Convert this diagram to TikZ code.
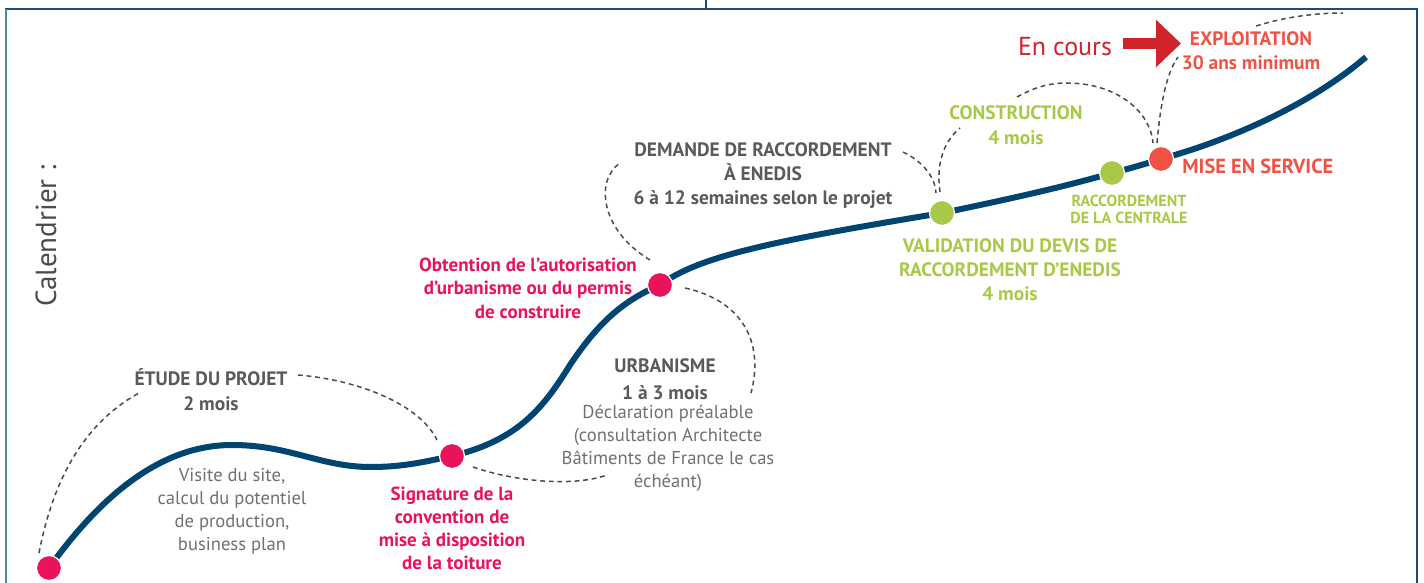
\documentclass[tikz,border=0pt]{standalone}
\usepackage{fontspec}
\setmainfont{PT Sans}
\usepackage{tikz}
\usetikzlibrary{arrows.meta}
\definecolor{navy}{RGB}{0,68,114}
\definecolor{framedark}{RGB}{30,75,115}
\definecolor{framelight}{RGB}{85,135,170}
\definecolor{pinkc}{RGB}{233,19,90}
\definecolor{greenc}{RGB}{168,201,72}
\definecolor{misec}{RGB}{240,82,68}
\definecolor{courc}{RGB}{209,36,42}
\definecolor{graytxt}{RGB}{90,90,90}
\definecolor{lighttxt}{RGB}{112,112,112}
\definecolor{dashgray}{RGB}{75,75,75}

\begin{document}
\begin{tikzpicture}[x=0.5pt,y=-0.5pt,
    dot/.style={circle,draw=white,line width=0.6pt,minimum size=12.5pt,inner sep=0pt},
    dashline/.style={dashgray,line width=0.75pt,dash pattern=on 2.4pt off 1.9pt},
    lblbold/.style={font=\bfseries\fontsize{9.7}{12}\selectfont,align=center,inner sep=0pt},
    lblreg/.style={font=\fontsize{9.3}{11.5}\selectfont,text=lighttxt,align=center,inner sep=0pt}]
\useasboundingbox (0,0) rectangle (1424,583);
% cadre
\draw[framedark,line width=1pt] (5,9) -- (1418,9);
\draw[framedark,line width=1pt] (1417,9) -- (1417,583);
\draw[framedark,line width=1pt] (706,0) -- (706,9);
\draw[framelight,line width=1pt] (6,9) -- (6,583);
\node[rotate=90,font=\fontsize{14.5}{17}\selectfont,text=graytxt!85!black] (tCal) at (46,236) {Calendrier :};
% etapes sur la courbe
\coordinate (pStart) at (49,568);
\coordinate (pSign) at (452,456);
\coordinate (pUrba) at (660,285);
\coordinate (pValid) at (942,213);
\coordinate (pRacc) at (1112,173);
\coordinate (pMise) at (1161,159);
\coordinate (pEnd) at (1366,57);
\draw[navy,line width=3pt] (pStart) .. controls (105,490) and (165,445) .. (232,445)
    .. controls (290,445) and (320,467) .. (371,467)
    .. controls (405,467) and (428,461) .. (pSign)
    .. controls (520,440) and (545,405) .. (570,365)
    .. controls (600,320) and (625,300) .. (pUrba)
    .. controls (700,255) and (780,240) .. (pValid)
    .. controls (1000,201) and (1060,188) .. (pRacc)
    .. controls (1128,169) and (1145,164) .. (pMise)
    .. controls (1230,140) and (1310,105) .. (pEnd);
\node[dot,fill=pinkc] (dStart) at (pStart) {};
\node[dot,fill=pinkc] (dSign) at (pSign) {};
\node[dot,fill=pinkc] (dUrba) at (pUrba) {};
\node[dot,fill=greenc] (dValid) at (pValid) {};
\node[dot,fill=greenc] (dRacc) at (pRacc) {};
\node[dot,fill=misec] (dMise) at (pMise) {};
% textes
\node[lblbold,text=graytxt,font=\bfseries\fontsize{9.7}{12.5}\selectfont] (tEtude) at (211,390) {ÉTUDE DU PROJET\\2 mois};
\node[lblreg] (tVisite) at (232,511) {Visite du site,\\calcul du potentiel\\de production,\\business plan};
\node[lblbold,text=pinkc,font=\bfseries\fontsize{9.5}{11.5}\selectfont] (tSign) at (452,528) {Signature de la\\convention de\\mise à disposition\\de la toiture};
\node[lblbold,text=pinkc,font=\bfseries\fontsize{9.5}{11.7}\selectfont] (tObt) at (528,288) {Obtention de l’autorisation\\d’urbanisme ou du permis\\de construire};
\node[lblbold,text=graytxt,font=\bfseries\fontsize{9.7}{13.5}\selectfont] (tUrbaHead) at (665,379) {URBANISME\\1 à 3 mois};
\node[lblreg] (tUrbaBody) at (668,448) {Déclaration préalable\\(consultation Architecte\\Bâtiments de France le cas\\échéant)};
\node[lblbold,text=graytxt] (tDemande) at (763,176) {DEMANDE DE RACCORDEMENT\\À ENEDIS\\6 à 12 semaines selon le projet};
\node[lblbold,text=greenc] (tValid) at (1010,270) {VALIDATION DU DEVIS DE\\RACCORDEMENT D’ENEDIS\\4 mois};
\node[lblbold,text=greenc,font=\bfseries\fontsize{9.7}{12.5}\selectfont] (tConstr) at (1016,125) {CONSTRUCTION\\4 mois};
\node[lblbold,text=greenc,font=\bfseries\fontsize{8}{8.5}\selectfont] (tRacc) at (1129,209) {RACCORDEMENT\\DE LA CENTRALE};
\node[lblbold,text=misec,anchor=west,font=\bfseries\fontsize{10.2}{12}\selectfont] (tMise) at (1182,166) {MISE EN SERVICE};
\node[lblbold,text=misec] (tExpl) at (1251,51) {EXPLOITATION\\30 ans minimum};
\node[font=\fontsize{13}{15}\selectfont,text=courc,inner sep=0pt] (tEnCours) at (1065,47) {En cours};
% fleche
\coordinate (arrS) at (1123,43.5);
\coordinate (arrE) at (1181,43.5);
\draw[courc,line width=5.5pt,-{Triangle[length=12.5pt,width=23pt]}] (arrS) -- (arrE);
% pointilles
\draw[dashline] (39,553) .. controls (55,470) and (90,420) .. (139,393);
\draw[dashline] (298,375) .. controls (360,380) and (420,405) .. (437,440);
\draw[dashline] (473,467) .. controls (510,480) and (570,488) .. (607,475);
\draw[dashline] (685,288) .. controls (740,300) and (765,340) .. (751,393);
\draw[dashline] (650,260) .. controls (600,230) and (595,180) .. (620,163);
\draw[dashline] (903,152) .. controls (920,160) and (935,175) .. (936,193);
\draw[dashline] (940,192) .. controls (936,165) and (943,142) .. (960,128);
\draw[dashline] (1017,97) .. controls (1035,87) and (1050,83) .. (1067,83)
    .. controls (1115,83) and (1150,110) .. (1153,143);
\draw[dashline] (1157,143) .. controls (1160,110) and (1165,75) .. (1178,57);
\draw[dashline] (1256,26) .. controls (1285,17) and (1315,13) .. (1343,13);
\end{tikzpicture}
\end{document}
